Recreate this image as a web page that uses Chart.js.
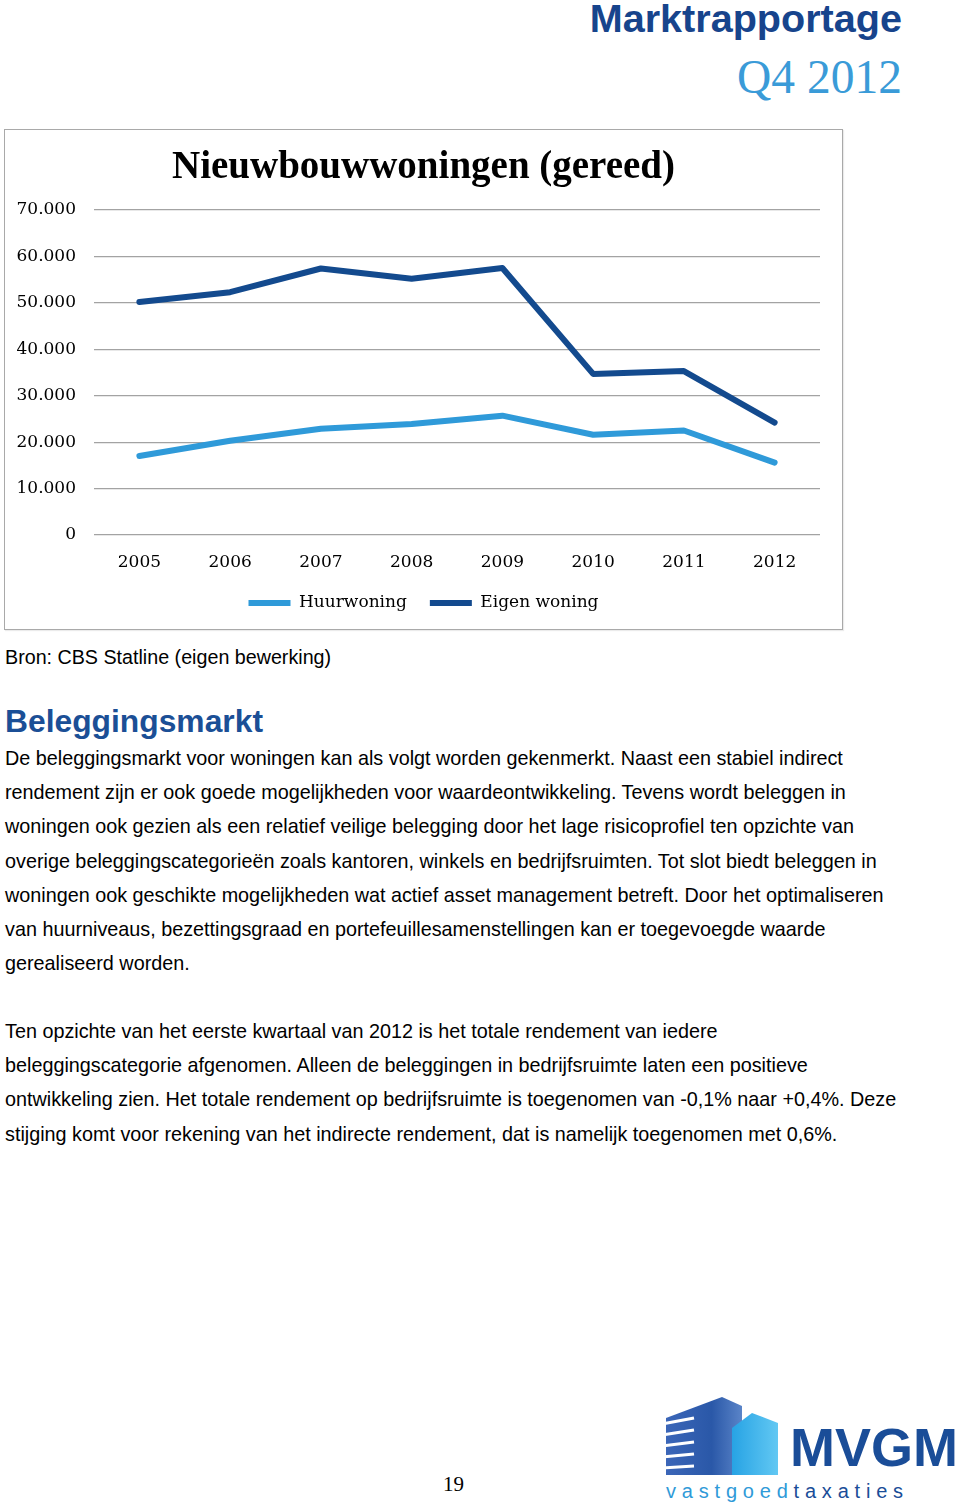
<!DOCTYPE html>
<html>
<head>
<meta charset="utf-8">
<script src="https://cdn.jsdelivr.net/npm/chart.js@4"></script>
<style>
  html,body{margin:0;padding:0;background:#fff;}
  body{width:960px;height:1508px;position:relative;overflow:hidden;font-family:"Liberation Sans",Arial,sans-serif;}
  .abs{position:absolute;white-space:nowrap;}
  #hdr1{right:58px;top:-5px;font:bold 39.6px/46px "Liberation Sans",Arial,sans-serif;color:#17448c;}
  #hdr2{right:58px;top:49px;font:47.5px/56px "Liberation Serif","Times New Roman",serif;color:#3a9bd8;}
  #box{left:4px;top:129px;width:839px;height:501px;border:1px solid #a9a9a9;box-sizing:border-box;box-shadow:1px 1px 1px rgba(0,0,0,0.08);}
  #box canvas{position:absolute;left:0;top:0;}
  #bron{left:5px;top:640px;font:19.7px/34px "Liberation Sans",Arial,sans-serif;color:#000;}
  #h2{left:5px;top:701px;font:bold 31.8px/40px "Liberation Sans",Arial,sans-serif;color:#1b4f96;}
  .para{left:5px;font:19.8px/34.2px "Liberation Sans",Arial,sans-serif;color:#000;}
  #p1{top:741px;}
  #p2{top:1014px;}
  #pnum{left:443px;top:1472px;font:21px/24px "Liberation Serif",serif;color:#000;}
  #logo{left:660px;top:1390px;}
</style>
</head>
<body>
<div id="hdr1" class="abs">Marktrapportage</div>
<div id="hdr2" class="abs">Q4 2012</div>

<div id="box" class="abs"><canvas id="c" width="837" height="499"></canvas></div>

<div id="bron" class="abs">Bron: CBS Statline (eigen bewerking)</div>
<div id="h2" class="abs">Beleggingsmarkt</div>
<div id="p1" class="abs para">De beleggingsmarkt voor woningen kan als volgt worden gekenmerkt. Naast een stabiel indirect<br>rendement zijn er ook goede mogelijkheden voor waardeontwikkeling. Tevens wordt beleggen in<br>woningen ook gezien als een relatief veilige belegging door het lage risicoprofiel ten opzichte van<br>overige beleggingscategorieën zoals kantoren, winkels en bedrijfsruimten. Tot slot biedt beleggen in<br>woningen ook geschikte mogelijkheden wat actief asset management betreft. Door het optimaliseren<br>van huurniveaus, bezettingsgraad en portefeuillesamenstellingen kan er toegevoegde waarde<br>gerealiseerd worden.</div>
<div id="p2" class="abs para">Ten opzichte van het eerste kwartaal van 2012 is het totale rendement van iedere<br>beleggingscategorie afgenomen. Alleen de beleggingen in bedrijfsruimte laten een positieve<br>ontwikkeling zien. Het totale rendement op bedrijfsruimte is toegenomen van -0,1% naar +0,4%. Deze<br>stijging komt voor rekening van het indirecte rendement, dat is namelijk toegenomen met 0,6%.</div>
<div id="pnum" class="abs">19</div>

<svg id="logo" class="abs" width="300" height="118" viewBox="0 0 300 118">
  <defs>
    <linearGradient id="gA" x1="0" y1="0" x2="1" y2="0">
      <stop offset="0" stop-color="#3b66b8"/>
      <stop offset="0.6" stop-color="#2a58a8"/>
      <stop offset="1" stop-color="#5a84c8"/>
    </linearGradient>
    <linearGradient id="gB" x1="0" y1="0" x2="1" y2="0">
      <stop offset="0" stop-color="#27a3e4"/>
      <stop offset="1" stop-color="#62c8f3"/>
    </linearGradient>
  </defs>
  <polygon points="6,28 62,7 82,16 82,85 6,85" fill="url(#gA)"/>
  <g stroke="#fff" stroke-width="3.2">
    <line x1="2" y1="34" x2="34" y2="28"/>
    <line x1="2" y1="45" x2="34" y2="40"/>
    <line x1="2" y1="56" x2="34" y2="52"/>
    <line x1="2" y1="67" x2="34" y2="64"/>
    <line x1="2" y1="78" x2="34" y2="76"/>
  </g>
  <polygon points="72,38 92,23 118,33 118,85 72,85" fill="url(#gB)"/>
  <text x="130" y="76" font-family="Liberation Sans, Arial, sans-serif" font-weight="bold" font-size="54" fill="#1a4d98">MVGM</text>
  <text x="6" y="108" font-family="Liberation Sans, Arial, sans-serif" font-size="20" letter-spacing="5.8" fill="#2f9ad8">vastgoed<tspan fill="#1a4d98">taxaties</tspan></text>
</svg>

<script>
const years = ['2005','2006','2007','2008','2009','2010','2011','2012'];
const huurwoning = [17000, 20300, 22900, 23900, 25700, 21600, 22500, 15600];
const eigenWoning = [50200, 52300, 57400, 55200, 57500, 34700, 35300, 24200];
const yTickValues = [0, 10000, 20000, 30000, 40000, 50000, 60000, 70000];
const seriesNames = ['Huurwoning', 'Eigen woning'];
const chartTitle = 'Nieuwbouwwoningen (gereed)';

const fmt = v => v === 0 ? '0' : String(v).replace(/\B(?=(\d{3})+(?!\d))/g, '.');

new Chart(document.getElementById('c'), {
  type: 'line',
  data: {
    labels: years,
    datasets: [
      {
        label: seriesNames[0],
        data: huurwoning,
        borderColor: '#2f9ad9',
        backgroundColor: '#2f9ad9',
        borderWidth: 6,
        borderCapStyle: 'round',
        borderJoinStyle: 'round',
        pointRadius: 0,
        pointHoverRadius: 0,
        tension: 0,
        pointStyle: 'line'
      },
      {
        label: seriesNames[1],
        data: eigenWoning,
        borderColor: '#134a8e',
        backgroundColor: '#134a8e',
        borderWidth: 6,
        borderCapStyle: 'round',
        borderJoinStyle: 'round',
        pointRadius: 0,
        pointHoverRadius: 0,
        tension: 0,
        pointStyle: 'line'
      }
    ]
  },
  options: {
    responsive: false,
    animation: false,
    devicePixelRatio: 1,
    layout: { padding: { left: 0, right: 0, top: 0, bottom: 7.5 } },
    plugins: {
      title: {
        display: true,
        text: chartTitle,
        color: '#000',
        font: { family: '"Liberation Serif", "Times New Roman", serif', size: 39, weight: 'bold' },
        padding: { top: 15, bottom: 18.2 }
      },
      legend: {
        display: true,
        position: 'bottom',
        labels: {
          color: '#000',
          font: { family: '"DejaVu Serif", serif', size: 17 },
          usePointStyle: true,
          pointStyle: 'line',
          pointStyleWidth: 42,
          padding: 23
        }
      },
      tooltip: { enabled: false }
    },
    scales: {
      x: {
        type: 'category',
        offset: true,
        grid: { display: false, drawTicks: false },
        border: { display: false },
        ticks: {
          color: '#000',
          font: { family: '"DejaVu Serif", serif', size: 17 },
          padding: 17,
          maxRotation: 0,
          autoSkip: false
        },
        afterFit(scale) { scale.height = 36.5; }
      },
      y: {
        min: 0,
        max: 70000,
        afterBuildTicks(scale) { scale.ticks = yTickValues.map(v => ({ value: v })); },
        grid: { color: '#a3a3a3', lineWidth: 1.2, drawTicks: false },
        border: { display: false },
        ticks: {
          color: '#000',
          font: { family: '"DejaVu Serif", serif', size: 17 },
          padding: 18,
          callback: v => fmt(v)
        },
        afterFit(scale) { scale.width = 89; }
      },
      yRightSpacer: {
        position: 'right',
        min: 0,
        max: 70000,
        grid: { display: false, drawTicks: false },
        border: { display: false },
        ticks: { display: false },
        afterFit(scale) { scale.width = 22; }
      }
    }
  }
});
</script>
</body>
</html>
